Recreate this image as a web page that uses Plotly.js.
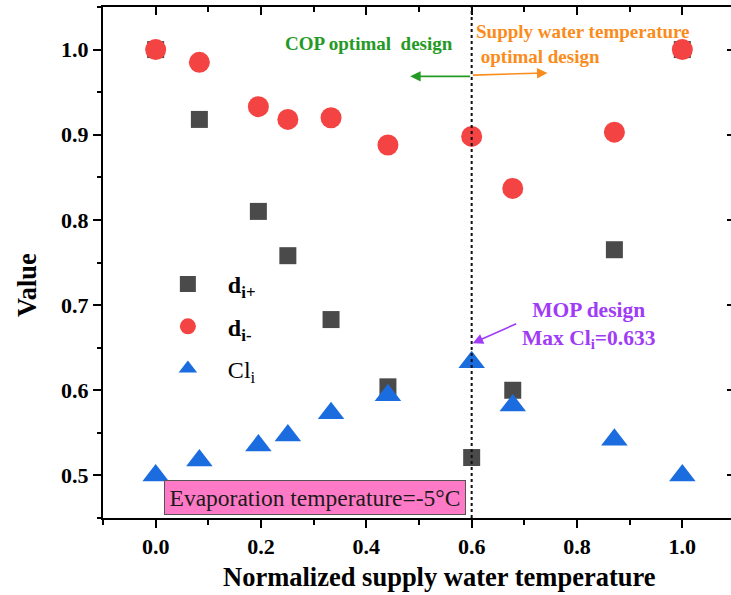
<!DOCTYPE html>
<html>
<head>
<meta charset="utf-8">
<script src="https://cdn.plot.ly/plotly-3.0.1.min.js"></script>
<style>
html,body{margin:0;padding:0;overflow:hidden;background:#fff;}
#chart{width:741px;height:595px;}
</style>
</head>
<body>
<div id="chart"></div>
<script>
// Data
var xNorm = [0, 0.083, 0.195, 0.251, 0.333, 0.441, 0.6, 0.678, 0.871, 1.0];
var dPlus = [1.0, 0.918, 0.810, 0.758, 0.683, 0.604, 0.521, 0.600, 0.765, 1.0];
var dMinus = [1.0, 0.985, 0.933, 0.918, 0.920, 0.888, 0.898, 0.837, 0.903, 1.0];
var cli = [0.500, 0.5175, 0.535, 0.547, 0.573, 0.594, 0.633, 0.582, 0.542, 0.500];
var seriesNames = ['<b>d<sub>i+</sub></b>', '<b>d<sub>i-</sub></b>', 'Cl<sub>i</sub>'];
var xTickVals = [0, 0.2, 0.4, 0.6, 0.8, 1.0];
var yTickVals = [0.5, 0.6, 0.7, 0.8, 0.9, 1.0];
var xTitle = 'Normalized supply water temperature';
var yTitle = 'Value';
var mopX = 0.6, maxCl = 0.633;

var serif = 'Liberation Serif, Times New Roman, serif';

var traces = [
  {x: xNorm, y: dPlus, name: seriesNames[0], mode: 'markers', type: 'scatter', legendgroup: 'a',
   marker: {symbol: 'square', size: 17, color: '#4a4a4a'}},
  {x: xNorm, y: dMinus, name: seriesNames[1], mode: 'markers', type: 'scatter', legendgroup: 'b',
   marker: {symbol: 'circle', size: 21, color: '#f44343'}},
  {x: xNorm, y: cli, name: seriesNames[2], mode: 'markers', type: 'scatter', legendgroup: 'c',
   marker: {symbol: 'triangle-up', size: 23, color: '#1b6ddf'}},
  {x: [], y: [], xaxis: 'x2', yaxis: 'y2', showlegend: false, hoverinfo: 'skip', type: 'scatter', mode: 'markers'}
];

var axBase = {
  showline: true, linecolor: '#000', linewidth: 2, mirror: false,
  showgrid: false, zeroline: false, ticklen: 8, tickwidth: 2, tickcolor: '#000'
};

var layout = {
  width: 741, height: 595,
  margin: {l: 103, r: 6, t: 7, b: 77},
  paper_bgcolor: '#fff', plot_bgcolor: '#fff',
  font: {family: serif, color: '#000'},
  showlegend: true,
  legend: {x: 0.071, y: 0.501, xanchor: 'left', yanchor: 'top', bgcolor: 'rgba(0,0,0,0)',
           font: {family: serif, size: 24, color: '#000'}, itemwidth: 70,
           traceorder: 'grouped', tracegroupgap: 8},
  xaxis: Object.assign({}, axBase, {
    range: [-0.1, 1.1], ticks: 'outside', tickvals: xTickVals, tickformat: '.1f',
    tickfont: {family: serif, size: 22, weight: 'bold', color: '#000'},
    minor: {tickmode: 'linear', tick0: 0, dtick: 0.1, ticks: 'outside', ticklen: 4.5, tickwidth: 2, tickcolor: '#000'}
  }),
  yaxis: Object.assign({}, axBase, {
    range: [0.45, 1.05], ticks: 'outside', tickvals: yTickVals, tickformat: '.1f',
    tickfont: {family: serif, size: 22, weight: 'bold', color: '#000'},
    minor: {tickmode: 'linear', tick0: 0, dtick: 0.05, ticks: 'outside', ticklen: 4.5, tickwidth: 2, tickcolor: '#000'}
  }),
  xaxis2: Object.assign({}, axBase, {
    overlaying: 'x', side: 'top', anchor: 'y2', range: [-0.1, 1.1], ticks: 'inside', tickvals: xTickVals,
    showticklabels: false,
    minor: {tickmode: 'linear', tick0: 0, dtick: 0.1, ticks: 'inside', ticklen: 4.5, tickwidth: 2, tickcolor: '#000'}
  }),
  yaxis2: Object.assign({}, axBase, {
    overlaying: 'y', side: 'right', anchor: 'x2', range: [0.45, 1.05], ticks: 'inside', tickvals: yTickVals,
    showticklabels: false,
    minor: {tickmode: 'linear', tick0: 0, dtick: 0.05, ticks: 'inside', ticklen: 4.5, tickwidth: 2, tickcolor: '#000'}
  }),
  shapes: [
    {type: 'line', xref: 'x', yref: 'paper', x0: mopX, x1: mopX, y0: 0, y1: 1,
     line: {color: '#111', width: 2, dash: 'dot'}, layer: 'above'}
  ],
  annotations: [
    {xref: 'paper', yref: 'paper', x: 0.533, y: -0.1155, xanchor: 'center', yanchor: 'middle', showarrow: false,
     text: '<b>' + xTitle + '</b>', font: {family: serif, size: 26.5, color: '#000'}},
    {xref: 'paper', yref: 'paper', x: -0.1203, y: 0.456, xanchor: 'center', yanchor: 'middle', showarrow: false,
     textangle: -90, text: '<b>' + yTitle + '</b>', font: {family: serif, size: 26.5, color: '#000'}},
    {xref: 'x', yref: 'y', x: 0.406, y: 1.007, xanchor: 'center', yanchor: 'middle', showarrow: false,
     text: '<b>COP optimal&nbsp; design</b>', font: {family: serif, size: 19, color: '#249a24'}},
    {xref: 'x', yref: 'y', x: 0.605, y: 1.0065, xanchor: 'left', yanchor: 'middle', showarrow: false, align: 'left',
     text: '<b>Supply water temperature<br>&nbsp;optimal design</b>', font: {family: serif, size: 19, color: '#fb8c1c'}},
    {xref: 'x', yref: 'y', x: 0.4833, y: 0.9686, axref: 'x', ayref: 'y', ax: 0.5996, ay: 0.9686,
     showarrow: true, arrowhead: 2, arrowsize: 1.3, arrowwidth: 1.6, arrowcolor: '#249a24', text: ''},
    {xref: 'x', yref: 'y', x: 0.7438, y: 0.9726, axref: 'x', ayref: 'y', ax: 0.5996, ay: 0.9700,
     showarrow: true, arrowhead: 2, arrowsize: 1.3, arrowwidth: 1.6, arrowcolor: '#fb8c1c', text: ''},
    {xref: 'x', yref: 'y', x: 0.822, y: 0.677, xanchor: 'center', yanchor: 'middle', showarrow: false, align: 'center',
     text: '<b>MOP design<br>Max Cl<sub>i</sub>=' + maxCl.toFixed(3) + '</b>', font: {family: serif, size: 21.5, color: '#a03cf5'}},
    {xref: 'x', yref: 'y', x: 0.602, y: 0.6553, axref: 'x', ayref: 'y', ax: 0.6875, ay: 0.6788,
     showarrow: true, arrowhead: 2, arrowsize: 1.3, arrowwidth: 1.6, arrowcolor: '#a03cf5', text: ''},
    {xref: 'x', yref: 'y', x: 0.302, y: 0.4741, xanchor: 'center', yanchor: 'middle', showarrow: false,
     text: 'Evaporation temperature=-5°C', font: {family: serif, size: 23.5, color: '#1a1a1a'},
     bgcolor: '#ff7ac6', bordercolor: '#555', borderwidth: 1, borderpad: 1, width: 298, height: 31}
  ]
};

Plotly.newPlot('chart', traces, layout, {displayModeBar: false, staticPlot: true});
</script>
</body>
</html>
